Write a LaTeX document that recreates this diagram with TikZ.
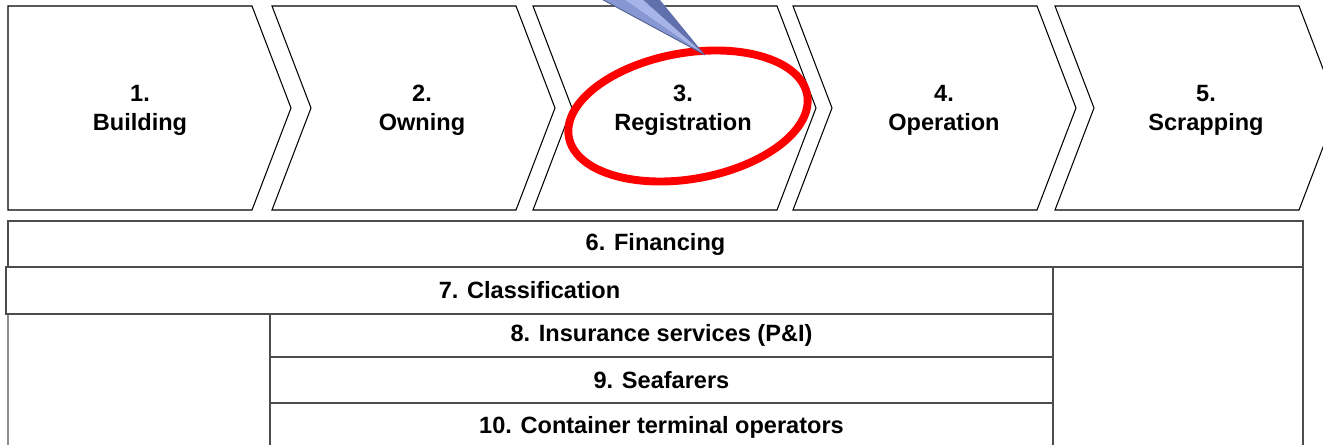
\documentclass[tikz,border=0pt]{standalone}
\usepackage{fontspec}
\setmainfont{Liberation Sans}
\usepackage{xcolor}
\definecolor{conelight}{HTML}{A6B4EA}
\definecolor{conemid}{HTML}{8797D4}
\definecolor{conedark}{HTML}{6070AC}
\definecolor{coneedge}{HTML}{4E5C8C}
\definecolor{ringred}{HTML}{FF0000}

\tikzset{
    stage/.style={draw=black, line width=0.6pt, fill=white},
    stagetext/.style={align=center, font=\fontsize{13.4}{16.4}\selectfont\bfseries},
    bar/.style={draw=black!70, line width=0.7pt, inner sep=0pt, font=\fontsize{13.4}{16.4}\selectfont\bfseries},
}

\begin{document}
\begin{tikzpicture}
        \clip (0,0) rectangle (26.46,8.90);
        \fill[white] (0,0) rectangle (26.46,8.90);

        \draw[stage] (0.16,8.78) -- (5.04,8.78) -- (5.82,6.74) -- (5.04,4.70) -- (0.16,4.70) -- cycle;
        \draw[stage] (5.44,8.78) -- (10.32,8.78) -- (11.10,6.74) -- (10.32,4.70) -- (5.44,4.70) -- (6.22,6.74) -- cycle;
        \draw[stage] (10.66,8.78) -- (15.54,8.78) -- (16.32,6.74) -- (15.54,4.70) -- (10.66,4.70) -- (11.44,6.74) -- cycle;
        \draw[stage] (15.86,8.78) -- (20.74,8.78) -- (21.52,6.74) -- (20.74,4.70) -- (15.86,4.70) -- (16.64,6.74) -- cycle;
        \draw[stage] (21.10,8.78) -- (25.98,8.78) -- (26.76,6.74) -- (25.98,4.70) -- (21.10,4.70) -- (21.88,6.74) -- cycle;

        \node[stagetext] (building) at (2.80,6.70) {1.\\Building};
        \node[stagetext] (owning) at (8.44,6.70) {2.\\Owning};
        \node[stagetext] (registration) at (13.66,6.70) {3.\\Registration};
        \node[stagetext] (operation) at (18.88,6.70) {4.\\Operation};
        \node[stagetext] (scrapping) at (24.12,6.70) {5.\\Scrapping};

        \draw[draw=black!45, line width=0.7pt] (0.16,2.62) rectangle (5.40,-0.2);
        \draw[draw=black!70, line width=0.7pt] (21.06,3.56) rectangle (26.06,-0.2);

        \node[bar, minimum width=25.90cm, minimum height=0.92cm] (financing) at (13.11,4.02) {6. Financing};
        \node[bar, minimum width=20.94cm, minimum height=0.94cm] (classification) at (10.59,3.09) {7. Classification};
        \node[bar, minimum width=15.66cm, minimum height=0.86cm] (insurance) at (13.23,2.19) {8. Insurance services (P\&I)};
        \node[bar, minimum width=15.66cm, minimum height=0.92cm] (seafarers) at (13.23,1.30) {9. Seafarers};
        \node[bar, minimum width=15.66cm, minimum height=1.20cm] (terminal) at (13.23,0.24) {};
        \node[font=\fontsize{13.4}{16.4}\selectfont\bfseries] (terminaltext) at (13.23,0.36) {10. Container terminal operators};

        \draw[ringred, line width=4.5pt, rotate around={10:(13.76,6.58)}] (13.76,6.58) ellipse (2.42 and 1.26);

        \coordinate (tip) at (14.10,7.80);
        \fill[conemid] (11.66,9.12) -- (tip) -- (12.20,9.12) -- cycle;
        \fill[conelight] (12.20,9.12) -- (tip) -- (12.62,9.12) -- cycle;
        \fill[conedark] (12.62,9.12) -- (tip) -- (13.02,9.12) -- cycle;
        \draw[coneedge, line width=0.5pt] (11.66,9.12) -- (tip);
\end{tikzpicture}
\end{document}
